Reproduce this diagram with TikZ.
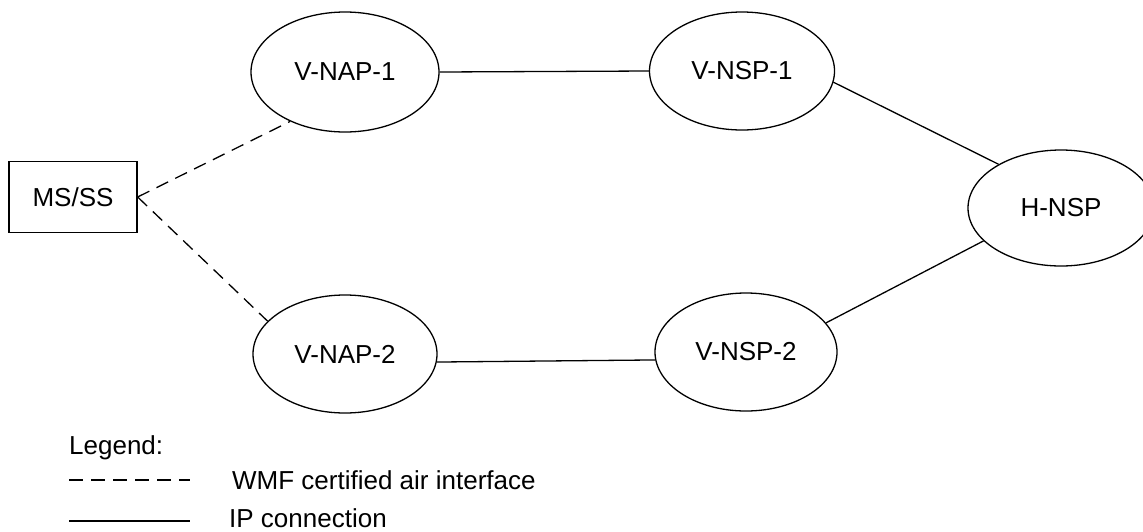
\documentclass[tikz,border=0pt]{standalone}
\usepackage{fontspec}
\setmainfont{Liberation Sans}
\usetikzlibrary{shapes.geometric}
\tikzset{
  net/.style={ellipse, draw, line width=1.3pt, inner sep=0pt, font=\fontsize{26}{30}\selectfont},
  term/.style={rectangle, draw, line width=1.3pt, inner sep=0pt, font=\fontsize{26}{30}\selectfont},
  air/.style={line width=1.3pt, dash pattern=on 13pt off 8pt},
  ipline/.style={line width=1.3pt},
  legtext/.style={anchor=west, inner sep=0pt, font=\fontsize{26}{30}\selectfont}
}
\begin{document}
\begin{tikzpicture}[x=1pt, y=-1pt]
  \clip (0,0) rectangle (1143,531);
  \fill[white] (0,0) rectangle (1143,531);

  % terminal and network nodes
  \node[term, minimum width=128pt, minimum height=71pt] (ms) at (73,197) {MS/SS};
  \node[net, minimum width=188pt, minimum height=120pt] (nap1) at (345,72) {V-NAP-1};
  \node[net, minimum width=185pt, minimum height=118pt] (nsp1) at (742,71) {V-NSP-1};
  \node[net, minimum width=186pt, minimum height=116pt] (hnsp) at (1061,208) {H-NSP};
  \node[net, minimum width=184pt, minimum height=118pt] (nap2) at (345,354) {V-NAP-2};
  \node[net, minimum width=182pt, minimum height=118pt] (nsp2) at (746,352) {V-NSP-2};

  % air interfaces
  \draw[air] (ms.east) -- (nap1.222);
  \draw[air] (ms.east) -- (nap2.157);

  % IP connections
  \draw[ipline] (nap1.east) -- (nsp1.west);
  \draw[ipline] (nsp1.-7.6) -- (hnsp.145.7);
  \draw[ipline] (nap2.-5) -- (nsp2.185);
  \draw[ipline] (nsp2.20.3) -- (hnsp.203.3);

  % legend
  \node[legtext] (leg) at (69,448) {Legend:};
  \coordinate (da) at (69,480);
  \coordinate (db) at (190,480);
  \coordinate (sa) at (69,521);
  \coordinate (sb) at (190,521);
  \draw[line width=1.3pt, dash pattern=on 14pt off 8pt] (da) -- (db);
  \draw[ipline] (sa) -- (sb);
  \node[legtext] (legair) at (232,480) {WMF certified air interface};
  \node[legtext] (legip) at (229,518) {IP connection};
\end{tikzpicture}
\end{document}
